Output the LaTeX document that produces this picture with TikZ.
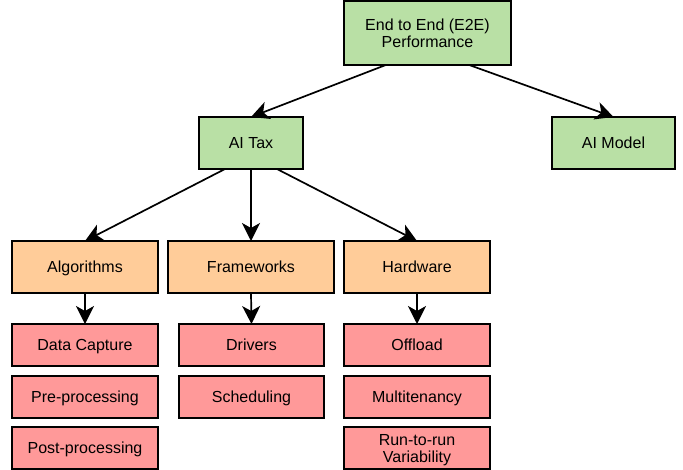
\documentclass[tikz,border=0pt]{standalone}
\usepackage{fontspec}
\setmainfont{Liberation Sans}
\usetikzlibrary{arrows.meta,calc}

\definecolor{tiergreen}{HTML}{B9E0A5}
\definecolor{tierorange}{HTML}{FFCC99}
\definecolor{tierred}{HTML}{FF9999}

\begin{document}
\begin{tikzpicture}[x=1pt, y=-1pt, outer sep=0pt]

\tikzstyle{box}=[draw, rectangle, line width=1.7pt, anchor=north west, align=center, inner sep=0pt, text height=11.5pt, text depth=0pt, font=\fontsize{16}{16.5}\selectfont]
\tikzstyle{twoline}=[text height=28pt, text depth=0pt]
\tikzstyle{gbox}=[box, fill=tiergreen, minimum height=52]
\tikzstyle{obox}=[box, fill=tierorange, minimum width=146, minimum height=52]
\tikzstyle{rbox}=[box, fill=tierred, minimum width=146, minimum height=42]
\tikzstyle{arr}=[line width=1.7pt, -{Stealth[length=18pt, width=18pt, inset=5pt]}]

\useasboundingbox (0,0) rectangle (683,469);

% top level
\node[gbox, twoline, minimum width=167, minimum height=64] (e2e) at (344,1) {End to End (E2E)\\Performance};
\node[gbox, minimum width=104] (tax) at (199,117) {AI Tax}; \node[gbox, minimum width=123] (model) at (552,117) {AI Model};

% second level
\node[obox] (alg) at (12,241) {Algorithms}; \node[obox, minimum width=166] (fw) at (168,241) {Frameworks}; \node[obox] (hw) at (344,241) {Hardware};

% leaves
\node[rbox] (cap) at (12,324) {Data Capture}; \node[rbox] (pre) at (12,376) {Pre-processing}; \node[rbox] (post) at (12,427) {Post-processing};
\node[rbox, minimum width=145] (drv) at (179,324) {Drivers}; \node[rbox, minimum width=145] (sched) at (179,376) {Scheduling};
\node[rbox] (off) at (344,324) {Offload}; \node[rbox] (multi) at (344,376) {Multitenancy}; \node[rbox, twoline] (rtr) at (344,427) {Run-to-run\\Variability};

\draw[arr] ($(e2e.south west)!0.25!(e2e.south east)$) -- (tax.north);
\draw[arr] ($(e2e.south west)!0.75!(e2e.south east)$) -- (model.north);
\draw[arr] ($(tax.south west)!0.25!(tax.south east)$) -- (alg.north);
\draw[arr] (tax.south) -- (fw.north);
\draw[arr] ($(tax.south west)!0.75!(tax.south east)$) -- (hw.north);
\draw[arr] (alg.south) -- (cap.north);
\draw[arr] (fw.south) -- (drv.north);
\draw[arr] (hw.south) -- (off.north);
\end{tikzpicture}
\end{document}
